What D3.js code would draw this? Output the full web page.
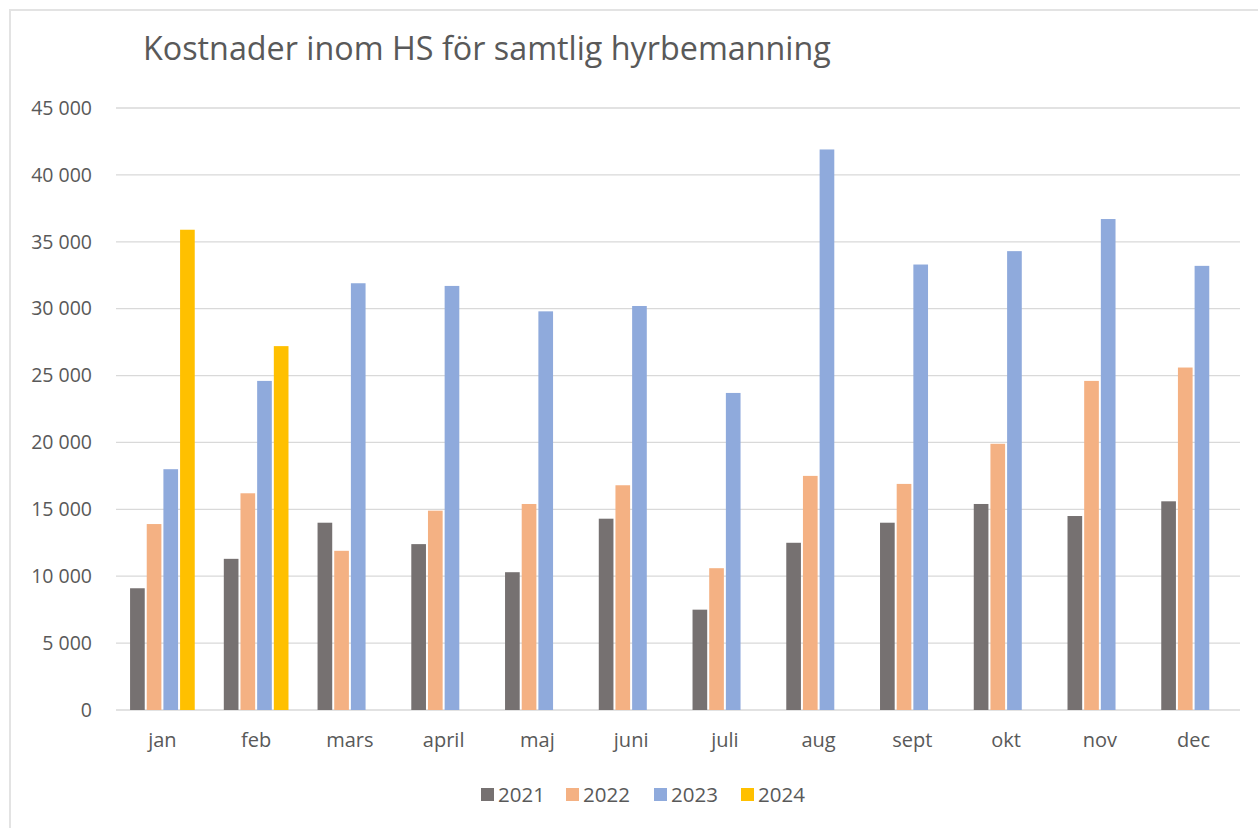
<!DOCTYPE html>
<html><head><meta charset="UTF-8">
<style type="text/css">
body { margin: 0; background: #fff; }
/* chart text in Excel grey */
text { font-family: "Open Sans", "Noto Sans", sans-serif; fill: #595959; }
.grid line { stroke: #d9d9d9; stroke-width: 1.3; }
.axis path, .axis line { display: none; }
</style>
<script src="https://cdn.jsdelivr.net/npm/d3@7"></script>
</head><body>
<div id="chart"></div>
<script>
// months and the series per year
var months = ["jan", "feb", "mars", "april", "maj", "juni", "juli", "aug", "sept", "okt", "nov", "dec"];
var years = ["2021", "2022", "2023", "2024"];
var v2021 = [9100, 11300, 14000, 12400, 10300, 14300, 7500, 12500, 14000, 15400, 14500, 15600];
var v2022 = [13900, 16200, 11900, 14900, 15400, 16800, 10600, 17500, 16900, 19900, 24600, 25600];
var v2023 = [18000, 24600, 31900, 31700, 29800, 30200, 23700, 41900, 33300, 34300, 36700, 33200];
var v2024 = [35900, 27200, null, null, null, null, null, null, null, null, null, null];
var yTicks = [0, 5000, 10000, 15000, 20000, 25000, 30000, 35000, 40000, 45000];
var colors = ["#767171", "#f4b183", "#8faadc", "#ffc000"];

var series = [v2021, v2022, v2023, v2024];
var W = 1258, H = 828;

var svg = d3.select("#chart").append("svg")
    .attr("width", W).attr("height", H);

// light frame round the chart area
svg.append("rect")
    .attr("x", 10).attr("y", 10)
    .attr("width", W).attr("height", H)
    .attr("fill", "none").attr("stroke", "#e3e3e3").attr("stroke-width", 2);

var x0 = d3.scaleBand().domain(months).range([116, 1240])
    .paddingInner(0.31).paddingOuter(0.15);
var x1 = d3.scaleBand().domain(years).range([0, x0.bandwidth()]).paddingInner(0.12);
var y = d3.scaleLinear().domain([0, 45000]).range([710, 108]);

var fmt = function(d) { return d3.format(",")(d).replace(",", " "); };

// gridlines
svg.append("g").attr("class", "grid")
  .selectAll("line").data(yTicks).enter().append("line")
    .attr("x1", 116).attr("x2", 1240)
    .attr("y1", function(d) { return y(d); })
    .attr("y2", function(d) { return y(d); });

// y axis labels
svg.append("g").attr("class", "axis")
    .attr("transform", "translate(106,0)")
    .call(d3.axisLeft(y).tickValues(yTicks).tickFormat(fmt).tickSize(0).tickPadding(14))
    .selectAll("text").style("font-size", "19.5px").attr("fill", "#595959");

// bars
var groups = svg.append("g").selectAll("g").data(months).enter().append("g")
    .attr("transform", function(d) { return "translate(" + x0(d) + ",0)"; });

groups.selectAll("rect")
    .data(function(m, i) {
      return years.map(function(yr, k) { return {year: yr, k: k, v: series[k][i]}; })
        .filter(function(d) { return d.v != null; });
    })
    .enter().append("rect")
    .attr("x", function(d) { return x1(d.year); })
    .attr("width", x1.bandwidth())
    .attr("y", function(d) { return y(d.v); })
    .attr("height", function(d) { return y(0) - y(d.v); })
    .attr("fill", function(d) { return colors[d.k]; });

// month labels
svg.append("g").attr("class", "axis")
    .attr("transform", "translate(0,720)")
    .call(d3.axisBottom(x0).tickSize(0).tickPadding(13))
    .selectAll("text").style("font-size", "20px").attr("fill", "#595959");

// title
svg.append("text")
    .attr("x", 143).attr("y", 60)
    .style("font-size", "32.3px")
    .text("Kostnader inom HS för samtlig hyrbemanning");

// legend
var legX = [481, 566, 654, 741];
var leg = svg.append("g").selectAll("g").data(years).enter().append("g")
    .attr("transform", function(d, i) { return "translate(" + legX[i] + ",788)"; });
leg.append("rect").attr("width", 13).attr("height", 13)
    .attr("fill", function(d, i) { return colors[i]; });
leg.append("text").attr("x", 17).attr("y", 14)
    .style("font-size", "20.5px")
    .text(function(d) { return d; });
</script>
</body></html>
